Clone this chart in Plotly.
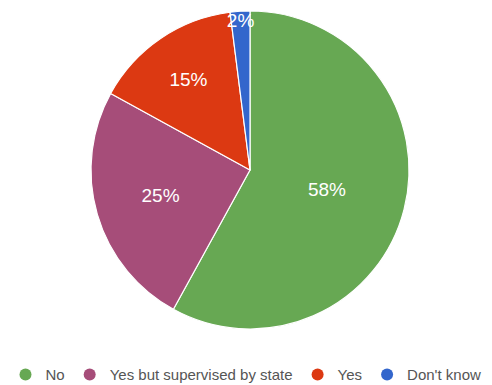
import plotly.graph_objects as go

labels = ["No", "Yes but supervised by state", "Yes", "Don't know"]
values = [58, 25, 15, 2]
colors = ["#67a853", "#a64d79", "#dc3912", "#3366cc"]

W, H = 492, 385
cx, cy, r = 250, 170, 159

fig = go.Figure()
fig.add_trace(go.Pie(
    labels=labels, values=values, sort=False, direction="clockwise", rotation=0,
    marker=dict(colors=colors, line=dict(color="white", width=1.2)),
    textinfo="percent", texttemplate="%{percent:.0%}",
    textposition="inside", insidetextorientation="horizontal",
    textfont=dict(color="white", size=19, family="Liberation Sans, Arial"),
    domain=dict(x=[(2 * cx - W) / W, 1], y=[(H - cy - r) / H, (H - cy + r) / H]),
    showlegend=False, hoverinfo="label+percent",
))
for lab, col in zip(labels, colors):
    fig.add_trace(go.Scatter(
        x=[None], y=[None], mode="markers", name=lab,
        marker=dict(color=col, size=13, symbol="circle"), showlegend=True,
    ))

fig.update_layout(
    width=W, height=H,
    margin=dict(l=0, r=0, t=0, b=0, autoexpand=False),
    paper_bgcolor="white", plot_bgcolor="white",
    xaxis=dict(visible=False), yaxis=dict(visible=False),
    uniformtext=dict(minsize=19, mode="show"),
    legend=dict(orientation="h", x=0.5, xanchor="center", y=-0.016, yanchor="bottom",
                font=dict(size=15, color="#555555", family="Liberation Sans, Arial"),
                itemsizing="constant", tracegroupgap=0, itemwidth=30),
)
fig.write_html("out.html")
